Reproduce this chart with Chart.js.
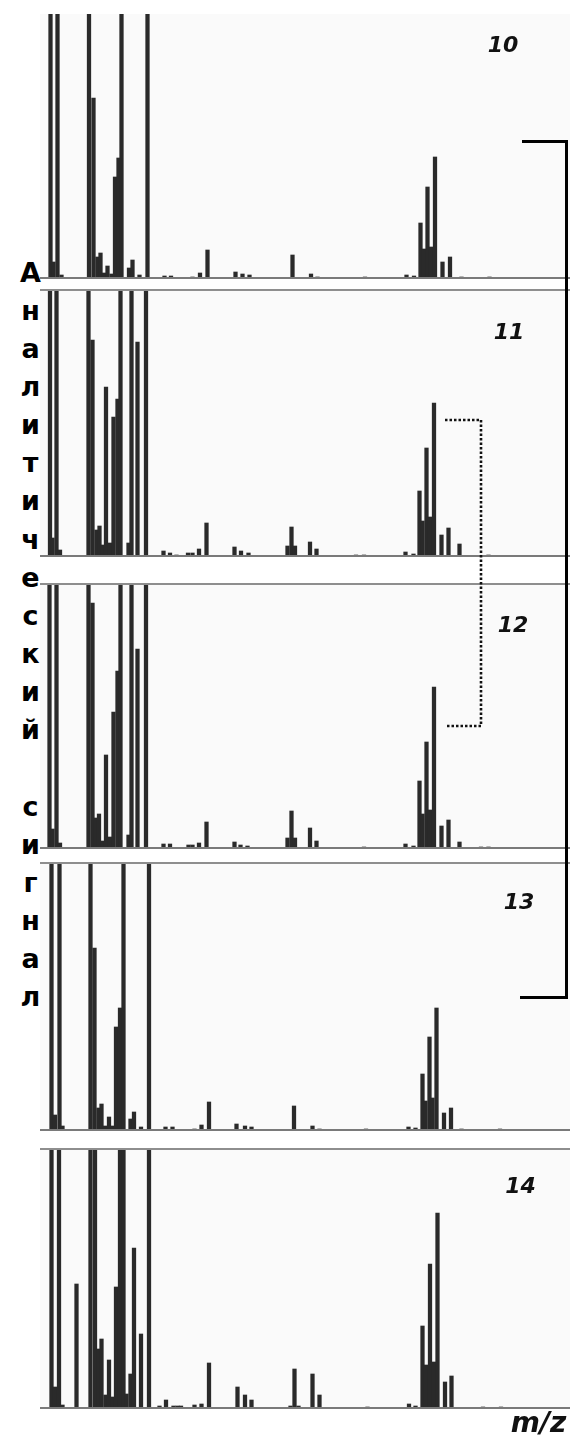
<!DOCTYPE html>
<html lang="ru">
<head>
<meta charset="utf-8">
<title>Масс-спектры 10–14</title>
<script src="https://cdn.jsdelivr.net/npm/chart.js@4/dist/chart.umd.min.js"></script>
<style>
  html, body { margin: 0; padding: 0; background: #fff; }
  #page { position: relative; width: 570px; height: 1437px; overflow: hidden; background: #fff; }
  .panel { position: absolute; left: 40px; width: 530px; background: #fafafa; }
  .panel canvas { position: absolute; left: 0; top: 0; }
  .rule { position: absolute; left: 40px; width: 530px; height: 2px; background: #8e8e8e; }
  .num { position: absolute; font: italic bold 22px "DejaVu Sans", sans-serif; color: #111;
         line-height: 1; white-space: nowrap; transform: translate(-50%, -50%); }
  #axisTitle { position: absolute; font: italic bold 28px "DejaVu Sans", sans-serif; color: #111;
               line-height: 1; white-space: nowrap; transform: translate(-50%, -50%); }
  #yTitle { position: absolute; left: 15px; width: 31px; top: 253.5px; text-align: center;
            font: bold 27px "DejaVu Sans", sans-serif; line-height: 38.16px; color: #000; }
  #marks { position: absolute; left: 0; top: 0; pointer-events: none; }
</style>
</head>
<body>
<div id="page">
  <div id="yTitle"></div>
  <svg id="marks" width="570" height="1437">
    <!-- bracket grouping spectra 10–13 -->
    <path d="M522 141.5 H566.5 V997.5 H520" fill="none" stroke="#000" stroke-width="3"/>
    <!-- dotted bracket joining spectra 11 and 12 -->
    <path d="M445 420 H481 V726 H445" fill="none" stroke="#111" stroke-width="2.6" stroke-dasharray="2.5 2"/>
  </svg>
</div>
<script>
// m/z axis range shared by all spectra
const MZ_MIN = 100;
const MZ_MAX = 1160;
// peaks that run off the top of the frame
const OFF = 400;

const spectrumNames = ['10', '11', '12', '13', '14'];
const yTitle = 'Аналитический сигнал';
const xTitle = 'm/z';
// full-scale intensity of each spectrum frame
const fullScale = [264, 266, 264, 267, 259];

// spectrum 10
const mz10 = [121, 127, 135, 143, 198, 207, 215, 221, 228, 235, 243, 250, 257, 263,
              278, 285, 299, 315, 349, 362, 405, 420, 435, 491, 505, 519, 605, 642, 655, 750,
              833, 848, 861, 868, 875, 882, 890, 905, 920, 943, 999];
const int10 = [OFF, 16, OFF, 3, OFF, 180, 21, 25, 5, 12, 4, 101, 120, OFF,
               10, 18, 3, OFF, 2, 2, 1, 5, 28, 6, 4, 3, 23, 4, 1, 1,
               3, 2, 55, 29, 91, 31, 121, 16, 21, 1, 1];

// spectrum 11
const mz11 = [120, 125, 133, 140, 197, 205, 213, 219, 225, 232, 240, 247, 255, 261,
              277, 283, 295, 312, 347, 360, 373, 396, 405, 418, 433, 489, 502, 517,
              595, 603, 610, 640, 653, 732, 748,
              831, 847, 859, 865, 873, 880, 888, 903, 917, 939, 997];
const int11 = [OFF, 18, OFF, 6, OFF, 216, 26, 30, 11, 169, 13, 139, 157, OFF,
               13, OFF, 214, OFF, 5, 3, 1, 3, 3, 7, 33, 9, 5, 3,
               10, 29, 10, 14, 7, 1, 1,
               4, 2, 65, 35, 108, 39, 153, 21, 28, 12, 1];

// spectrum 12
const mz12 = [119, 125, 133, 140, 197, 205, 212, 218, 225, 232, 240, 247, 255, 261,
              277, 283, 295, 312, 347, 360, 397, 405, 418, 433, 489, 501, 515,
              595, 603, 610, 640, 653, 748,
              831, 847, 859, 865, 873, 880, 888, 903, 917, 939, 982, 997];
const int12 = [OFF, 19, OFF, 5, OFF, 245, 30, 34, 7, 93, 11, 136, 177, OFF,
               13, OFF, 199, OFF, 4, 4, 3, 3, 5, 26, 6, 3, 2,
               10, 37, 10, 20, 7, 1,
               4, 2, 67, 34, 106, 38, 161, 22, 28, 6, 1, 1];

// spectrum 13
const mz13 = [123, 130, 139, 145, 201, 209, 217, 223, 230, 238, 245, 252, 260, 267,
              281, 288, 302, 318, 351, 365, 409, 423, 438, 493, 510, 523, 608, 645, 659, 752,
              837, 851, 865, 871, 879, 885, 893, 908, 922, 943, 1020];
const int13 = [OFF, 15, OFF, 4, OFF, 182, 22, 26, 4, 13, 4, 103, 122, OFF,
               11, 18, 3, OFF, 3, 3, 1, 5, 28, 6, 4, 3, 24, 4, 1, 1,
               3, 2, 56, 29, 93, 32, 122, 17, 22, 1, 1];

// spectrum 14
const mz14 = [123, 130, 138, 145, 173,
              201, 210, 217, 223, 231, 238, 245, 252, 260, 267, 273, 281, 288, 302, 318,
              339, 352, 367, 375, 382, 409, 423, 438, 495, 510, 523,
              601, 609, 617, 645, 659, 755,
              838, 851, 865, 872, 880, 888, 895, 910, 923, 986, 1022];
const int14 = [OFF, 21, OFF, 3, 124,
               OFF, OFF, 59, 69, 13, 48, 11, 121, OFF, OFF, 14, 34, 160, 74, OFF,
               2, 8, 2, 2, 2, 3, 4, 45, 21, 13, 8,
               2, 39, 2, 34, 13, 1,
               4, 2, 82, 43, 144, 46, 195, 26, 32, 1, 1];

const spectra = [[mz10, int10], [mz11, int11], [mz12, int12], [mz13, int13], [mz14, int14]];

// frame geometry: top edge and baseline of each spectrum, label centre
const frames = [
  { top: 14,   base: 278,  label: [503, 45] },
  { top: 290,  base: 556,  label: [509, 332] },
  { top: 584,  base: 848,  label: [513, 625] },
  { top: 863,  base: 1130, label: [519, 902] },
  { top: 1149, base: 1408, label: [520.5, 1186] }
];

const page = document.getElementById('page');
const marks = document.getElementById('marks');

// vertical axis title, one letter per row
const yBox = document.getElementById('yTitle');
for (const ch of yTitle) {
  const row = document.createElement('div');
  row.textContent = ch === ' ' ? '\u00a0' : ch;
  yBox.appendChild(row);
}

frames.forEach((f, i) => {
  const h = f.base - f.top;
  const panel = document.createElement('div');
  panel.className = 'panel';
  panel.style.top = f.top + 'px';
  panel.style.height = h + 'px';
  page.insertBefore(panel, marks);

  const canvas = document.createElement('canvas');
  canvas.width = 530;
  canvas.height = h;
  panel.appendChild(canvas);

  if (i > 0) {
    const topRule = document.createElement('div');
    topRule.className = 'rule';
    topRule.style.top = (f.top - 1) + 'px';
    page.insertBefore(topRule, marks);
  }
  const baseRule = document.createElement('div');
  baseRule.className = 'rule';
  baseRule.style.top = (f.base - 1) + 'px';
  baseRule.style.height = '1.6px';
  baseRule.style.background = '#7a7a7a';
  page.insertBefore(baseRule, marks);

  const num = document.createElement('div');
  num.className = 'num';
  num.textContent = spectrumNames[i];
  num.style.left = f.label[0] + 'px';
  num.style.top = f.label[1] + 'px';
  page.appendChild(num);

  const [mz, inten] = spectra[i];
  new Chart(canvas, {
    type: 'bar',
    data: {
      datasets: [{
        label: spectrumNames[i],
        data: mz.map((m, k) => ({ x: m, y: inten[k] })),
        backgroundColor: '#2a2a2a',
        borderWidth: 0,
        barThickness: 3.6
      }]
    },
    options: {
      responsive: false,
      animation: false,
      events: [],
      layout: { padding: 0 },
      plugins: { legend: { display: false }, tooltip: { enabled: false } },
      scales: {
        x: { type: 'linear', min: MZ_MIN, max: MZ_MAX, offset: false, display: false },
        y: { min: 0, max: fullScale[i], display: false }
      }
    }
  });
});

const axisTitle = document.createElement('div');
axisTitle.id = 'axisTitle';
axisTitle.textContent = xTitle;
axisTitle.style.left = '538.5px';
axisTitle.style.top = '1423px';
page.appendChild(axisTitle);
</script>
</body>
</html>
